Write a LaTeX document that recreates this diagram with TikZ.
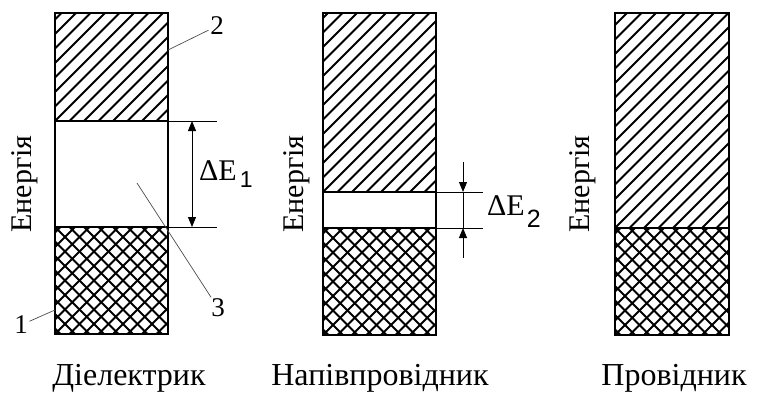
\documentclass[tikz,border=0pt]{standalone}
\usepackage{fontspec}
\setmainfont{Liberation Serif}
\newfontfamily\subfont{Liberation Sans}
\usetikzlibrary{arrows.meta}
\tikzset{
  band/.style={line width=2.4pt},
  hatch/.style={line width=1.9pt},
  edge/.style={line width=1.3pt},
  guide/.style={line width=0.9pt},
  dimarrow/.style={line width=0.9pt,-{Triangle[length=10pt,width=8pt]}},
  lead/.style={line width=0.7pt,black!70},
  caption/.style={font=\fontsize{32}{32}\selectfont,inner sep=0pt,anchor=base},
  energy/.style={font=\fontsize{30}{30}\selectfont,inner sep=0pt,rotate=90},
  num/.style={font=\fontsize{27}{27}\selectfont,inner sep=1.5pt},
  gaplabel/.style={font=\fontsize{30}{30}\selectfont,inner sep=0pt,anchor=base west},
}
\begin{document}
\begin{tikzpicture}[x=1pt,y=-1pt]
\useasboundingbox (0,0) rectangle (757,394);
% Dielectric: wide gap
\begin{scope}
\begin{scope}\clip (55,13) rectangle (168,121);
\foreach \k in {-30,...,14} {\draw[hatch] (55+\k*14.5,121) -- ++(500,-500);}
\end{scope}
\begin{scope}\clip (55,227) rectangle (168,334);
\foreach \k in {-30,...,14} {\draw[hatch] (55+\k*14.5,334) -- ++(500,-500); \draw[hatch] (55+\k*14.5,227) -- ++(500,500);}
\end{scope}
\draw[band] (55,13) rectangle (168,334);
\draw[edge] (55,121) -- (168,121); \draw[edge] (55,227) -- (168,227);
\coordinate (c1t) at (168,121); \coordinate (c1b) at (168,227);
\coordinate (e1t) at (217,121); \coordinate (e1b) at (217,227);
\draw[guide] (c1t) -- (e1t); \draw[guide] (c1b) -- (e1b);
\coordinate (a1t) at (192,121); \coordinate (a1b) at (192,227);
\draw[dimarrow,{Triangle[length=10pt,width=8pt]}-{Triangle[length=10pt,width=8pt]}] (a1t) -- (a1b);
\node[gaplabel] (de1) at (199,180) {ΔE\hspace{3pt}\raisebox{-7pt}{\subfont\fontsize{23}{23}\selectfont 1}};
\node[energy] (en1) at (25,184) {Енергія};
\node[num] (n1) at (21,325) {1};
\node[num] (n2) at (217,26) {2};
\node[num] (n3) at (218,308) {3};
\coordinate (p1) at (55,310); \coordinate (p2) at (168,50); \coordinate (p3) at (137,183);
\draw[lead] (p1) -- (n1); \draw[lead] (p2) -- (n2); \draw[lead] (p3) -- (n3);
\node[caption] (cap1) at (129,385) {Діелектрик};
\end{scope}
% Semiconductor: narrow gap
\begin{scope}
\begin{scope}\clip (323,13) rectangle (436,192);
\foreach \k in {-30,...,14} {\draw[hatch] (323+\k*14.5,192) -- ++(500,-500);}
\end{scope}
\begin{scope}\clip (323,228) rectangle (436,335);
\foreach \k in {-30,...,14} {\draw[hatch] (323+\k*14.5,335) -- ++(500,-500); \draw[hatch] (323+\k*14.5,228) -- ++(500,500);}
\end{scope}
\draw[band] (323,13) rectangle (436,335);
\draw[edge] (323,192) -- (436,192); \draw[edge] (323,228) -- (436,228);
\coordinate (c2t) at (436,192); \coordinate (c2b) at (436,228);
\coordinate (e2t) at (483,192); \coordinate (e2b) at (483,228);
\draw[guide] (c2t) -- (e2t); \draw[guide] (c2b) -- (e2b);
\coordinate (a2t) at (463,192); \coordinate (a2b) at (463,228);
\coordinate (s2t) at (463,162); \coordinate (s2b) at (463,258);
\draw[dimarrow] (s2t) -- (a2t); \draw[dimarrow] (s2b) -- (a2b); \draw[guide] (a2t) -- (a2b);
\node[gaplabel] (de2) at (487,215) {ΔE\hspace{2pt}\raisebox{-12pt}{\subfont\fontsize{25}{25}\selectfont 2}};
\node[energy] (en2) at (297,184) {Енергія};
\node[caption] (cap2) at (380,385) {Напівпровідник};
\end{scope}
% Conductor: bands overlap
\begin{scope}
\begin{scope}\clip (615,13) rectangle (729,228);
\foreach \k in {-30,...,14} {\draw[hatch] (615+\k*14.5,228) -- ++(500,-500);}
\end{scope}
\begin{scope}\clip (615,228) rectangle (729,335);
\foreach \k in {-30,...,14} {\draw[hatch] (615+\k*14.5,335) -- ++(500,-500); \draw[hatch] (615+\k*14.5,228) -- ++(500,500);}
\end{scope}
\draw[band] (615,13) rectangle (729,335);
\draw[edge] (615,228) -- (729,228);
\node[energy] (en3) at (583,184) {Енергія};
\node[caption] (cap3) at (674,385) {Провідник};
\end{scope}
\end{tikzpicture}
\end{document}
